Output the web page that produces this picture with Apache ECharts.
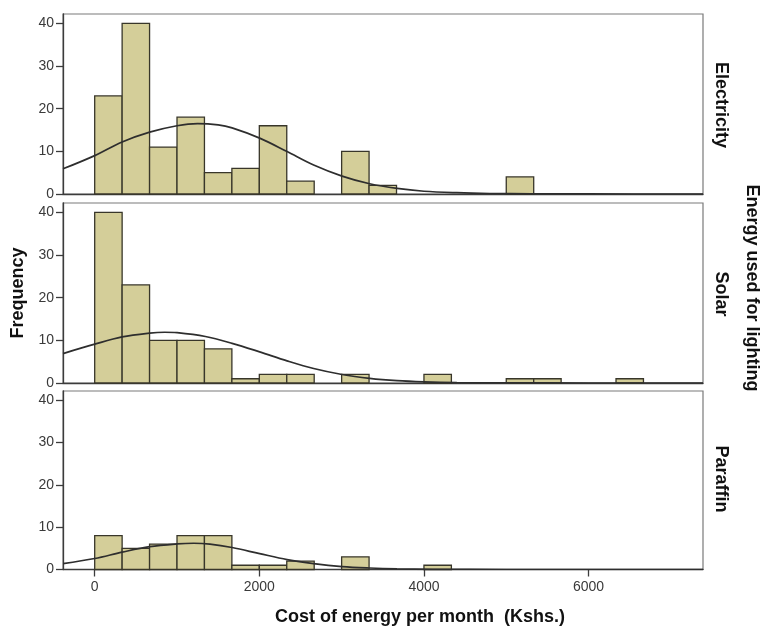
<!DOCTYPE html>
<html><head><meta charset="utf-8">
<script src="https://cdn.jsdelivr.net/npm/echarts@6/dist/echarts.min.js"></script>
<style>html,body{margin:0;padding:0;background:#fff}#c{width:763px;height:628px}</style>
</head><body><div id="c"></div>
<script>
// ---- data ----
const panelNames = ['Electricity', 'Solar', 'Paraffin'];
const binWidth = 333.33; // histogram bin width (Kshs.)
const xTicks = [0, 2000, 4000, 6000];
const yTicks = [0, 10, 20, 30, 40];
// counts per bin, bin i covers [i*binWidth, (i+1)*binWidth)
const elecCounts     = [23, 40, 11, 18, 5, 6, 16, 3, 0, 10, 2, 0, 0, 0, 0, 4, 0, 0, 0, 0];
const solarCounts    = [40, 23, 10, 10, 8, 1, 2, 2, 0, 2, 0, 0, 2, 0, 0, 1, 1, 0, 0, 1];
const paraffinCounts = [8, 5, 6, 8, 8, 1, 1, 2, 0, 3, 0, 0, 1, 0, 0, 0, 0, 0, 0, 0];
// fitted normal curves
const elecCurveX  = [-385, 0, 333, 668, 1000, 1250, 1500, 1669, 2004, 2337, 2660, 3005, 3340, 3673, 4000, 4400, 4800, 5300, 6000, 7390];
const elecCurveY  = [5.9, 9.0, 12.2, 14.5, 16.0, 16.5, 16.2, 15.5, 13.1, 9.95, 6.8, 4.2, 2.4, 1.3, 0.65, 0.3, 0.12, 0.04, 0.01, 0];
const solarCurveX = [-385, 0, 333, 668, 850, 1001, 1345, 1669, 2004, 2337, 2660, 3005, 3340, 3673, 4000, 4400, 5000, 6000, 7390];
const solarCurveY = [6.9, 9.1, 10.8, 11.7, 11.9, 11.8, 10.9, 9.3, 7.3, 5.2, 3.4, 2.0, 1.1, 0.55, 0.27, 0.1, 0.03, 0.005, 0];
const parCurveX   = [-385, 0, 333, 668, 1001, 1202, 1400, 1669, 2004, 2337, 2660, 3005, 3340, 3673, 4100, 5000, 7390];
const parCurveY   = [1.4, 2.6, 4.1, 5.4, 6.05, 6.2, 6.0, 5.2, 3.75, 2.35, 1.4, 0.7, 0.35, 0.15, 0.04, 0.005, 0];

const countsList = [elecCounts, solarCounts, paraffinCounts];
const curvesList = [[elecCurveX, elecCurveY], [solarCurveX, solarCurveY], [parCurveX, parCurveY]];

// ---- chart ----
const chart = echarts.init(document.getElementById('c'), null, {renderer: 'canvas'});
const FONT = '"Liberation Sans", Arial, sans-serif';
const gridsLayout = [
  {top: 14, height: 180},
  {top: 203, height: 180},
  {top: 391, height: 178.5}
];
const grids = [], xAxes = [], yAxes = [], series = [];
gridsLayout.forEach((g, k) => {
  grids.push({left: 63, right: 60, top: g.top, height: g.height, show: true,
    borderColor: '#7a7a7a', borderWidth: 1.2, backgroundColor: 'transparent'});
  const isBottom = k === 2;
  xAxes.push({gridIndex: k, type: 'value', min: -385, max: 7390,
    axisLine: {show: true, onZero: false, lineStyle: {color: '#3c3c3c', width: 1.3}},
    axisTick: {show: isBottom, customValues: xTicks, length: 7, lineStyle: {color: '#3c3c3c', width: 1.3}},
    axisLabel: {show: isBottom, customValues: xTicks, color: '#3a3a3a', fontSize: 14, fontFamily: FONT, margin: 11,
      formatter: v => String(v)},
    splitLine: {show: false}});
  yAxes.push({gridIndex: k, type: 'value', min: 0, max: 42.2,
    axisLine: {show: true, onZero: false, lineStyle: {color: '#3c3c3c', width: 1.3}},
    axisTick: {show: true, customValues: yTicks, length: 7, lineStyle: {color: '#3c3c3c', width: 1.3}},
    axisLabel: {customValues: yTicks, color: '#3a3a3a', fontSize: 14, fontFamily: FONT, margin: 9},
    splitLine: {show: false}});
  const counts = countsList[k];
  const binData = [];
  counts.forEach((c, i) => { if (c > 0) binData.push([i * binWidth, (i + 1) * binWidth, c]); });
  series.push({type: 'custom', xAxisIndex: k, yAxisIndex: k, data: binData,
    encode: {x: [0, 1], y: 2},
    renderItem: function (params, api) {
      const p0 = api.coord([api.value(0), api.value(2)]);
      const p1 = api.coord([api.value(1), 0]);
      return {type: 'rect', shape: {x: p0[0], y: p0[1], width: p1[0] - p0[0], height: p1[1] - p0[1]},
        style: {fill: '#d4ce99', stroke: '#38362a', lineWidth: 1.3}};
    }, z: 2});
  const cx = curvesList[k][0], cy = curvesList[k][1];
  series.push({type: 'line', xAxisIndex: k, yAxisIndex: k, data: cx.map((x, i) => [x, cy[i]]),
    smooth: 0.35, showSymbol: false, symbol: 'none',
    lineStyle: {color: '#2e2e2e', width: 1.7}, z: 3, clip: true});
});

const stripY = [105, 294, 479];
const graphics = panelNames.map((n, k) => ({type: 'text', x: 721, y: stripY[k], rotation: -Math.PI / 2,
  style: {text: n, font: 'bold 18px ' + FONT, fill: '#111', textAlign: 'center', textVerticalAlign: 'middle'}}));
graphics.push({type: 'text', x: 752, y: 288, rotation: -Math.PI / 2,
  style: {text: 'Energy used for lighting', font: 'bold 18px ' + FONT, fill: '#111', textAlign: 'center', textVerticalAlign: 'middle'}});
graphics.push({type: 'text', x: 18, y: 293, rotation: Math.PI / 2,
  style: {text: 'Frequency', font: 'bold 18px ' + FONT, fill: '#111', textAlign: 'center', textVerticalAlign: 'middle'}});
graphics.push({type: 'text', x: 420, y: 617,
  style: {text: 'Cost of energy per month  (Kshs.)', font: 'bold 18px ' + FONT, fill: '#111', textAlign: 'center', textVerticalAlign: 'middle'}});

chart.setOption({
  animation: false,
  backgroundColor: '#fff',
  grid: grids, xAxis: xAxes, yAxis: yAxes, series: series,
  graphic: graphics
});
</script></body></html>
